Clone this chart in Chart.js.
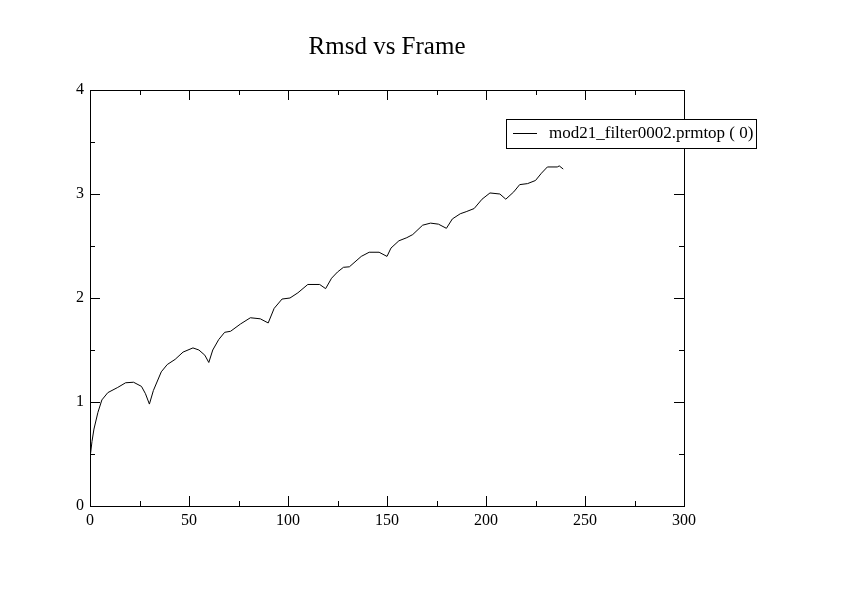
<!DOCTYPE html>
<html>
<head>
<meta charset="utf-8">
<script src="https://cdn.jsdelivr.net/npm/chart.js@4.4.1/dist/chart.umd.min.js"></script>
<style>
  html, body { margin: 0; padding: 0; background: #ffffff; }
  #wrap { width: 842px; height: 595px; position: relative; }
</style>
</head>
<body>
<div id="wrap"><canvas id="c" width="842" height="595"></canvas></div>
<script>
const chartTitle = "Rmsd vs Frame";
const seriesLabel = "mod21_filter0002.prmtop ( 0)";
const frames = [0, 1, 2, 4, 6, 9, 14, 18, 22, 26, 28, 30, 32, 36, 39, 43, 47, 52, 55, 58, 60, 62, 65, 68, 71, 76, 81, 86, 90, 93, 97, 101, 105, 110, 116, 119, 122, 125, 128, 131, 137, 141, 146, 150, 152, 156, 160, 163, 168, 172, 176, 180, 183, 187, 190, 194, 198, 202, 207, 210, 214, 217, 221, 225, 228, 231, 236, 237, 239];
const rmsd = [0.46, 0.62, 0.74, 0.90, 1.02, 1.09, 1.14, 1.185, 1.19, 1.15, 1.08, 0.98, 1.11, 1.29, 1.36, 1.41, 1.48, 1.52, 1.50, 1.45, 1.38, 1.50, 1.60, 1.67, 1.68, 1.75, 1.81, 1.80, 1.76, 1.90, 1.99, 2.00, 2.05, 2.13, 2.13, 2.09, 2.19, 2.25, 2.295, 2.30, 2.40, 2.44, 2.44, 2.40, 2.48, 2.55, 2.58, 2.61, 2.70, 2.72, 2.71, 2.67, 2.76, 2.81, 2.83, 2.86, 2.95, 3.01, 3.00, 2.95, 3.02, 3.09, 3.10, 3.13, 3.20, 3.26, 3.26, 3.27, 3.24];
const xTicks = [0, 50, 100, 150, 200, 250, 300];
const yTicks = [0, 1, 2, 3, 4];

const FONT = "'Liberation Serif', 'Times New Roman', serif";

const framePlugin = {
  id: 'framePlugin',
  afterDraw(chart) {
    const ctx = chart.ctx;
    const a = chart.chartArea;
    const xs = chart.scales.x, ys = chart.scales.y;
    ctx.save();
    ctx.strokeStyle = '#000';
    ctx.lineWidth = 1;
    ctx.strokeRect(Math.round(a.left) + 0.5, Math.round(a.top) + 0.5, Math.round(a.right - a.left), Math.round(a.bottom - a.top));
    const major = 10, minor = 5;
    ctx.beginPath();
    for (let i = 0; i < xTicks.length; i++) {
      const px = Math.round(xs.getPixelForValue(xTicks[i])) + 0.5;
      ctx.moveTo(px, a.bottom); ctx.lineTo(px, a.bottom - major);
      ctx.moveTo(px, a.top); ctx.lineTo(px, a.top + major);
      if (i < xTicks.length - 1) {
        const mx = Math.round(xs.getPixelForValue((xTicks[i] + xTicks[i + 1]) / 2)) + 0.5;
        ctx.moveTo(mx, a.bottom); ctx.lineTo(mx, a.bottom - minor);
        ctx.moveTo(mx, a.top); ctx.lineTo(mx, a.top + minor);
      }
    }
    for (let i = 0; i < yTicks.length; i++) {
      const py = Math.round(ys.getPixelForValue(yTicks[i])) + 0.5;
      ctx.moveTo(a.left, py); ctx.lineTo(a.left + major, py);
      ctx.moveTo(a.right, py); ctx.lineTo(a.right - major, py);
      if (i < yTicks.length - 1) {
        const my = Math.round(ys.getPixelForValue((yTicks[i] + yTicks[i + 1]) / 2)) + 0.5;
        ctx.moveTo(a.left, my); ctx.lineTo(a.left + minor, my);
        ctx.moveTo(a.right, my); ctx.lineTo(a.right - minor, my);
      }
    }
    ctx.stroke();

    ctx.fillStyle = '#000';
    ctx.font = "25px " + FONT;
    ctx.textAlign = 'center';
    ctx.textBaseline = 'alphabetic';
    ctx.fillText(chartTitle, (a.left + a.right) / 2, 54);

    const bx = a.right - 178, by = a.top + 29, bw = 250, bh = 29;
    ctx.fillStyle = '#fff';
    ctx.fillRect(bx, by, bw, bh);
    ctx.strokeRect(bx + 0.5, by + 0.5, bw, bh);
    ctx.beginPath();
    ctx.moveTo(bx + 7, by + 14.5); ctx.lineTo(bx + 31, by + 14.5);
    ctx.stroke();
    ctx.fillStyle = '#000';
    ctx.font = "17px " + FONT;
    ctx.textAlign = 'left';
    ctx.textBaseline = 'middle';
    ctx.fillText(chart.data.datasets[0].label, bx + 43, by + 15);
    ctx.restore();
  }
};

new Chart(document.getElementById('c'), {
  type: 'line',
  data: {
    datasets: [{
      label: seriesLabel,
      data: frames.map((f, i) => ({ x: f, y: rmsd[i] })),
      borderColor: '#000',
      borderWidth: 1,
      pointRadius: 0,
      tension: 0,
      fill: false
    }]
  },
  options: {
    responsive: false,
    animation: false,
    layout: { padding: { top: 90, left: 0, right: 158, bottom: 0 } },
    plugins: { legend: { display: false }, title: { display: false }, tooltip: { enabled: false } },
    scales: {
      x: {
        type: 'linear', min: 0, max: 300,
        afterBuildTicks: (s) => { s.ticks = xTicks.map(v => ({ value: v })); },
        afterFit: (s) => { s.height = 89; },
        grid: { display: false, drawTicks: false },
        border: { display: false },
        ticks: { color: '#000', font: { family: FONT, size: 16 }, padding: 5, maxRotation: 0 }
      },
      y: {
        type: 'linear', min: 0, max: 4,
        afterBuildTicks: (s) => { s.ticks = yTicks.map(v => ({ value: v })); },
        afterFit: (s) => { s.width = 90; },
        grid: { display: false, drawTicks: false },
        border: { display: false },
        ticks: { color: '#000', font: { family: FONT, size: 16 }, padding: 6 }
      }
    }
  },
  plugins: [framePlugin]
});
</script>
</body>
</html>
